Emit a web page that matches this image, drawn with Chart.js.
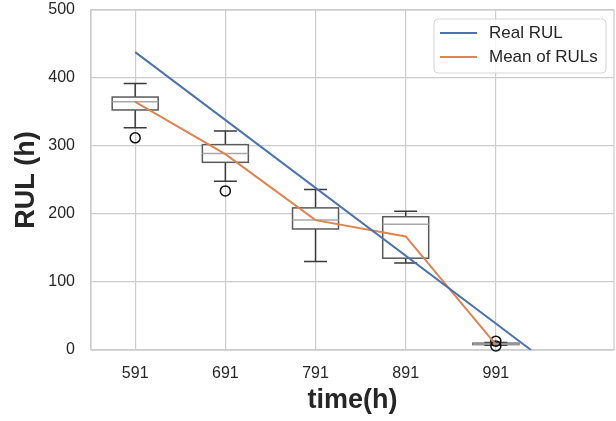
<!DOCTYPE html>
<html>
<head>
<meta charset="utf-8">
<script src="https://cdn.jsdelivr.net/npm/chart.js@4.4.0/dist/chart.umd.min.js"></script>
<style>
  html, body { margin: 0; padding: 0; background: #fff; }
  #wrap { width: 616px; height: 421px; position: relative; }
</style>
</head>
<body>
<div id="wrap"><canvas id="rulChart"></canvas></div>
<script>
// data
const times = [591, 691, 791, 891, 991];
const realRulTimes = [591, 1030];
const realRul = [438, 0];
const meanRul = [365, 288, 191, 167, 8];
const whiskerLow = [327, 248, 130, 128, 7];
const q1 = [353, 276, 178, 135, 8];
const median = [365, 289, 191, 185, 9];
const q3 = [372, 302, 209, 196, 10];
const whiskerHigh = [392, 322, 236, 204, 11];
const outliers = [[312], [234], [], [], [13, 6]];

const TEXT = '#262626';
const GRID = '#cccccc';
const FONT = "'Liberation Sans', Arial, sans-serif";

// boxes drawn under the lines
const boxPlots = {
    id: 'boxPlots',
    beforeDatasetsDraw(chart) {
        const { ctx, chartArea, scales: { x, y } } = chart;
        ctx.save();
        // frame (all four spines)
        ctx.strokeStyle = GRID;
        ctx.lineWidth = 1.2;
        ctx.strokeRect(chartArea.left, chartArea.top, chartArea.right - chartArea.left, chartArea.bottom - chartArea.top);

        times.forEach((t, i) => {
            const cx = x.getPixelForValue(t);
            const hw = x.getPixelForValue(t + 25.5) - cx;
            const cw = hw / 2;
            const yQ1 = y.getPixelForValue(q1[i]);
            const yQ3 = y.getPixelForValue(q3[i]);
            const yLo = y.getPixelForValue(whiskerLow[i]);
            const yHi = y.getPixelForValue(whiskerHigh[i]);
            const yMed = y.getPixelForValue(median[i]);

            ctx.lineWidth = 1.5;
            // whiskers + caps
            ctx.strokeStyle = '#3a3a3a';
            ctx.beginPath();
            ctx.moveTo(cx, yQ3); ctx.lineTo(cx, yHi);
            ctx.moveTo(cx, yQ1); ctx.lineTo(cx, yLo);
            ctx.moveTo(cx - cw, yHi); ctx.lineTo(cx + cw, yHi);
            ctx.moveTo(cx - cw, yLo); ctx.lineTo(cx + cw, yLo);
            ctx.stroke();
            // box
            ctx.strokeStyle = '#5a5a5a';
            ctx.fillStyle = '#ffffff';
            ctx.fillRect(cx - hw, yQ3, hw * 2, yQ1 - yQ3);
            ctx.strokeRect(cx - hw, yQ3, hw * 2, yQ1 - yQ3);
            // median
            ctx.strokeStyle = '#a8a8a8';
            ctx.beginPath();
            ctx.moveTo(cx - hw, yMed); ctx.lineTo(cx + hw, yMed);
            ctx.stroke();
            // fliers
            ctx.strokeStyle = '#111111';
            outliers[i].forEach(v => {
                ctx.beginPath();
                ctx.arc(cx, y.getPixelForValue(v), 5, 0, Math.PI * 2);
                ctx.stroke();
            });
        });
        ctx.restore();
    }
};

// legend box in the upper right corner of the plot
const cornerLegend = {
    id: 'cornerLegend',
    afterDatasetsDraw(chart) {
        const { ctx, chartArea } = chart;
        const w = 172, h = 54;
        const x0 = chartArea.right - 8 - w, y0 = chartArea.top + 9;
        ctx.save();
        ctx.beginPath();
        ctx.roundRect(x0, y0, w, h, 4);
        ctx.fillStyle = 'rgba(255,255,255,0.8)';
        ctx.fill();
        ctx.strokeStyle = '#d6d6d6';
        ctx.lineWidth = 1;
        ctx.stroke();
        ctx.font = '17px ' + FONT;
        ctx.textBaseline = 'middle';
        chart.data.datasets.forEach((ds, i) => {
            const ly = y0 + 14 + i * 24;
            ctx.strokeStyle = ds.borderColor;
            ctx.lineWidth = 2;
            ctx.beginPath();
            ctx.moveTo(x0 + 6, ly); ctx.lineTo(x0 + 43, ly);
            ctx.stroke();
            ctx.fillStyle = TEXT;
            ctx.fillText(ds.label, x0 + 55, ly);
        });
        ctx.restore();
    }
};

const ctx1 = document.getElementById('rulChart').getContext('2d');
new Chart(ctx1, {
    type: 'line',
    data: {
        datasets: [{
            label: 'Real RUL',
            data: realRulTimes.map((t, i) => ({ x: t, y: realRul[i] })),
            borderColor: '#4c72b0',
            borderWidth: 2,
            pointRadius: 0,
            fill: false
        }, {
            label: 'Mean of RULs',
            data: times.map((t, i) => ({ x: t, y: meanRul[i] })),
            borderColor: '#dd8452',
            borderWidth: 2,
            pointRadius: 0,
            fill: false
        }]
    },
    options: {
        responsive: true,
        maintainAspectRatio: false,
        animation: false,
        layout: { padding: { top: 10, right: 2, left: 0, bottom: 0 } },
        plugins: {
            legend: { display: false },
            tooltip: { enabled: false }
        },
        scales: {
            x: {
                type: 'linear',
                min: 542,
                max: 1122,
                afterBuildTicks(scale) { scale.ticks = times.map(v => ({ value: v })); },
                afterFit(scale) { scale.height = 71; scale.paddingLeft = 0; scale.paddingRight = 0; },
                grid: { color: GRID, lineWidth: 1.2, drawTicks: false },
                border: { color: GRID, width: 1.2 },
                ticks: { color: TEXT, padding: 14, font: { family: FONT, size: 16 } },
                title: {
                    display: true, text: 'time(h)', color: TEXT,
                    padding: { bottom: 4, top: 0 },
                    font: { family: FONT, size: 27, weight: 'bold' }
                }
            },
            y: {
                min: 0,
                max: 500,
                afterFit(scale) { scale.width = 91; scale.paddingTop = 0; scale.paddingBottom = 0; },
                grid: { color: GRID, lineWidth: 1.2, drawTicks: false },
                border: { color: GRID, width: 1.2 },
                ticks: { stepSize: 100, color: TEXT, padding: 16, font: { family: FONT, size: 16 } },
                title: {
                    display: true, text: 'RUL (h)', color: TEXT,
                    padding: { top: 10, bottom: 0 },
                    font: { family: FONT, size: 27, weight: 'bold' }
                }
            }
        }
    },
    plugins: [boxPlots, cornerLegend]
});
</script>
</body>
</html>
